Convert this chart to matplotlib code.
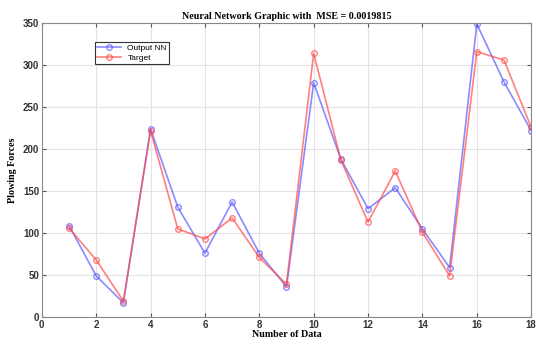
import matplotlib
matplotlib.use("Agg")
import matplotlib.pyplot as plt

# data
samples = list(range(1, 19))
output_nn = [109, 49, 17, 224, 131, 76, 137, 76, 36, 279, 188, 129, 154, 105, 59, 349, 280, 222]
target = [106, 68, 19, 222, 105, 93, 118, 71, 39, 314, 187, 113, 174, 101, 49, 316, 306, 226]

fig = plt.figure(figsize=(5.36, 3.45), dpi=100)
ax = fig.add_axes([0.078, 0.081, 0.913, 0.852])

ax.plot(samples, output_nn, color="#5a5aff", alpha=0.7, lw=1.2,
        marker="o", ms=4, mfc="none", label="Output NN")
ax.plot(samples, target, color="#ff4a4a", alpha=0.7, lw=1.2,
        marker="o", ms=4, mfc="none", label="Target")

ax.set_xlim(0, 18)
ax.set_ylim(0, 350)
ax.set_xticks(range(0, 19, 2))
ax.set_yticks(range(0, 351, 50))
ax.grid(True, color="#e3e3e3", lw=0.8)
ax.tick_params(direction="in", top=True, right=True, length=3, labelsize=7,
               pad=2, color="#555555")
for lbl in ax.get_xticklabels() + ax.get_yticklabels():
    lbl.set_fontweight("bold")
    lbl.set_family("Liberation Sans")
    lbl.set_color("#333333")
for s in ax.spines.values():
    s.set_color("#888888")

ax.set_title("Neural Network Graphic with  MSE = 0.0019815", family="Liberation Serif",
             fontweight="bold", fontsize=7.2, pad=3)
ax.set_xlabel("Number of Data", family="Liberation Serif", fontweight="bold",
              fontsize=7.2, labelpad=0)
ax.set_ylabel("Plowing Forces", family="Liberation Serif", fontweight="bold",
              fontsize=7.2, labelpad=4)

leg = ax.legend(loc="upper left", bbox_to_anchor=(0.1, 0.95),
                prop={"family": "Liberation Sans", "size": 6}, fancybox=False,
                edgecolor="#333333", handlelength=2.8, borderpad=0.3,
                labelspacing=0.2, framealpha=1)
leg.get_frame().set_linewidth(0.8)

fig.savefig("out.png", dpi=100)
